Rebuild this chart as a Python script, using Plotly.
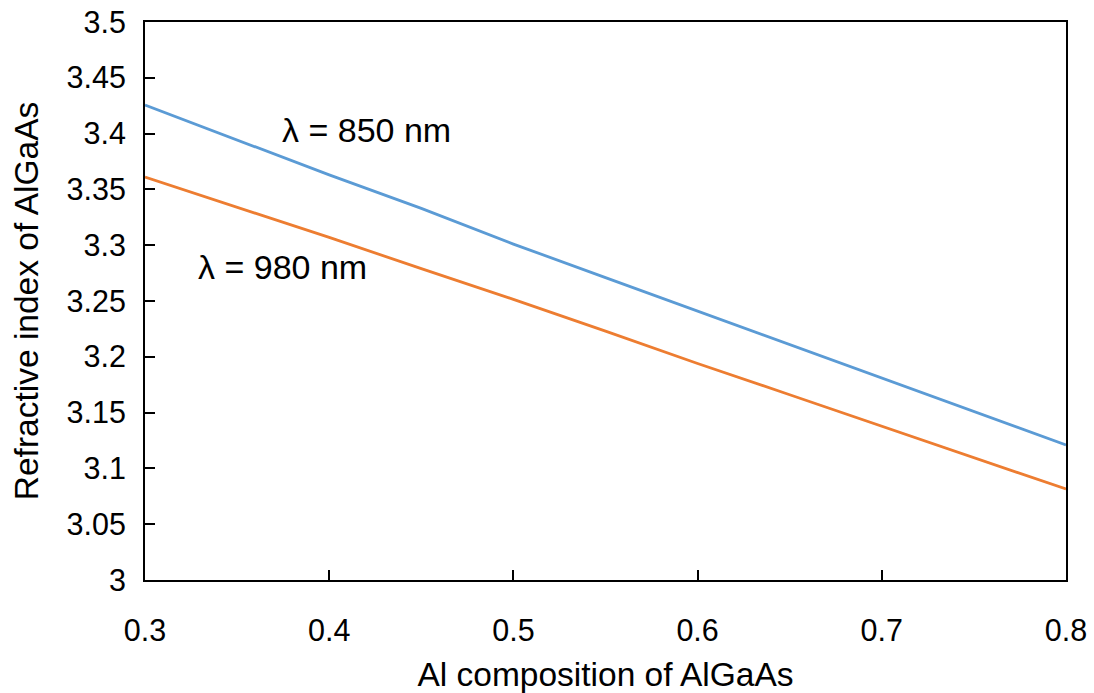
import plotly.graph_objects as go

al_composition = [0.30, 0.35, 0.40, 0.45, 0.50, 0.55, 0.60, 0.65, 0.70, 0.75, 0.80]
n_850 = [3.4256, 3.394, 3.363, 3.333, 3.301, 3.271, 3.241, 3.211, 3.181, 3.151, 3.121]
n_980 = [3.361, 3.334, 3.307, 3.279, 3.2515, 3.223, 3.194, 3.166, 3.138, 3.110, 3.0815]

x_ticks = [0.3, 0.4, 0.5, 0.6, 0.7, 0.8]
x_tick_labels = ["0.3", "0.4", "0.5", "0.6", "0.7", "0.8"]
y_ticks = [3, 3.05, 3.1, 3.15, 3.2, 3.25, 3.3, 3.35, 3.4, 3.45, 3.5]
y_tick_labels = ["3", "3.05", "3.1", "3.15", "3.2", "3.25", "3.3", "3.35", "3.4", "3.45", "3.5"]

FONT = "Liberation Sans, Arial, sans-serif"

fig = go.Figure()
fig.add_trace(go.Scatter(x=al_composition, y=n_850, mode="lines",
                         line=dict(color="#5B9BD5", width=2.8), name="850 nm"))
fig.add_trace(go.Scatter(x=al_composition, y=n_980, mode="lines",
                         line=dict(color="#ED7D31", width=2.8), name="980 nm"))

fig.add_annotation(x=0.4205, y=3.403, text="λ = 850 nm", showarrow=False,
                   font=dict(size=34, color="black", family=FONT))
fig.add_annotation(x=0.3744, y=3.2805, text="λ = 980 nm", showarrow=False,
                   font=dict(size=34, color="black", family=FONT))

axis_common = dict(showgrid=False, zeroline=False, showline=True, mirror=True,
                   linecolor="black", linewidth=2, ticks="inside", ticklen=10,
                   tickwidth=1.5, tickcolor="black", automargin=False,
                   tickfont=dict(size=30.5, color="black", family=FONT))

fig.update_xaxes(range=[0.3, 0.8], tickvals=x_ticks, ticktext=x_tick_labels,
                 title=dict(text="Al composition of AlGaAs", standoff=20,
                            font=dict(size=33.5, color="black", family=FONT)),
                 ticklabelstandoff=22, **axis_common)
fig.update_yaxes(range=[3, 3.5], tickvals=y_ticks, ticktext=y_tick_labels,
                 title=dict(text="Refractive index of AlGaAs", standoff=18,
                            font=dict(size=33.5, color="black", family=FONT)),
                 ticklabelstandoff=11, **axis_common)

fig.update_layout(width=1094, height=693, showlegend=False,
                  plot_bgcolor="white", paper_bgcolor="white",
                  margin=dict(l=145, r=28, t=22, b=113))

fig.write_html("out.html")
